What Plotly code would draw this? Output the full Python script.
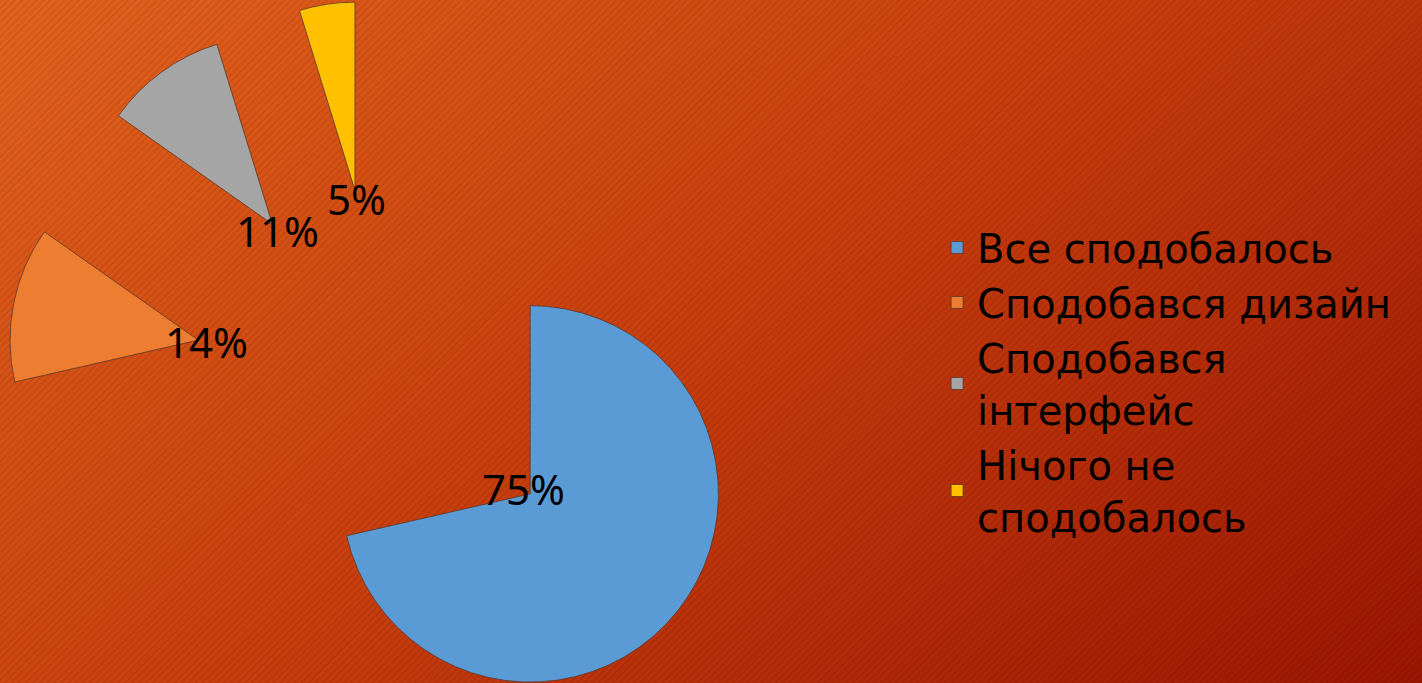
import base64
import math
import plotly.graph_objects as go

# ---- data ----
labels = ["Все сподобалось", "Сподобався дизайн", "Сподобався<br>інтерфейс", "Нічого не<br>сподобалось"]
values = [75, 14, 11, 5]
colors = ["#5B9BD5", "#ED7D31", "#A5A5A5", "#FFC000"]

# ---- layout geometry ----
W, H = 1422, 753          # figure size (bottom part falls below the visible window)
VIEW_H = 683
PULL = 1.0
CX = 383.0                # horizontal centre of the pie box (px)
R = (H / 2) / (1 + PULL)  # radius plotly will use for domain y=[0,1]
CY = H / 2
LABEL_INSET = 8

# background: diagonal gradient with fine stripes (svg as layout image)
svg = f"""<svg xmlns='http://www.w3.org/2000/svg' width='{W}' height='{VIEW_H}'>
<defs>
<linearGradient id='g' gradientUnits='userSpaceOnUse' x1='0' y1='0' x2='845' y2='1119'>
<stop offset='0' stop-color='#E4631D'/>
<stop offset='0.5' stop-color='#C83D0D'/>
<stop offset='1' stop-color='#9C1603'/>
</linearGradient>
<pattern id='p' width='5' height='5' patternUnits='userSpaceOnUse' patternTransform='rotate(45)'>
<rect width='2' height='5' fill='rgba(0,0,0,0.08)'/>
</pattern>
</defs>
<rect width='{W}' height='{VIEW_H}' fill='url(#g)'/>
<rect width='{W}' height='{VIEW_H}' fill='url(#p)'/>
</svg>"""
bg_src = "data:image/svg+xml;base64," + base64.b64encode(svg.encode("utf-8")).decode("ascii")

fig = go.Figure(
    go.Pie(
        labels=labels,
        values=values,
        sort=False,
        direction="clockwise",
        rotation=0,
        pull=PULL,
        marker=dict(colors=colors, line=dict(color="rgba(90,55,40,0.8)", width=1)),
        textinfo="none",
        hoverinfo="label+value",
        domain=dict(x=[0, 2 * CX / W], y=[0, 1]),
    )
)

# value labels placed at the (pulled) vertex of each slice
total = sum(values)
cum = 0
annotations = []
for v in values:
    mid = (cum + v / 2) / total * 2 * math.pi
    cum += v
    dx, dy = math.sin(mid), -math.cos(mid)
    px = CX + PULL * R * dx - LABEL_INSET * dx
    py = CY + PULL * R * dy - LABEL_INSET * dy
    annotations.append(
        dict(
            x=px / W, y=1 - py / H, xref="paper", yref="paper",
            text=f"{v}%", showarrow=False, xanchor="center", yanchor="middle",
            font=dict(family="Noto Sans", size=42, color="#000000"),
        )
    )

fig.update_layout(
    width=W,
    height=H,
    margin=dict(l=0, r=0, t=0, b=0, pad=0),
    paper_bgcolor="#B52A08",
    plot_bgcolor="rgba(0,0,0,0)",
    showlegend=True,
    legend=dict(
        x=0.659, y=0.4927, xanchor="left", yanchor="middle",
        font=dict(family="DejaVu Sans", size=40, color="#000000"),
        bgcolor="rgba(0,0,0,0)",
        itemclick=False,
    ),
    annotations=annotations,
    images=[
        dict(
            source=bg_src, xref="paper", yref="paper", x=0, y=1,
            sizex=1, sizey=VIEW_H / H, sizing="stretch", layer="below",
            xanchor="left", yanchor="top",
        )
    ],
)

fig.write_html(
    "out.html",
    include_plotlyjs=True,
    config={"displayModeBar": False},
    post_script="document.documentElement.style.overflow='hidden';document.body.style.overflow='hidden';document.body.style.margin='0';",
)
